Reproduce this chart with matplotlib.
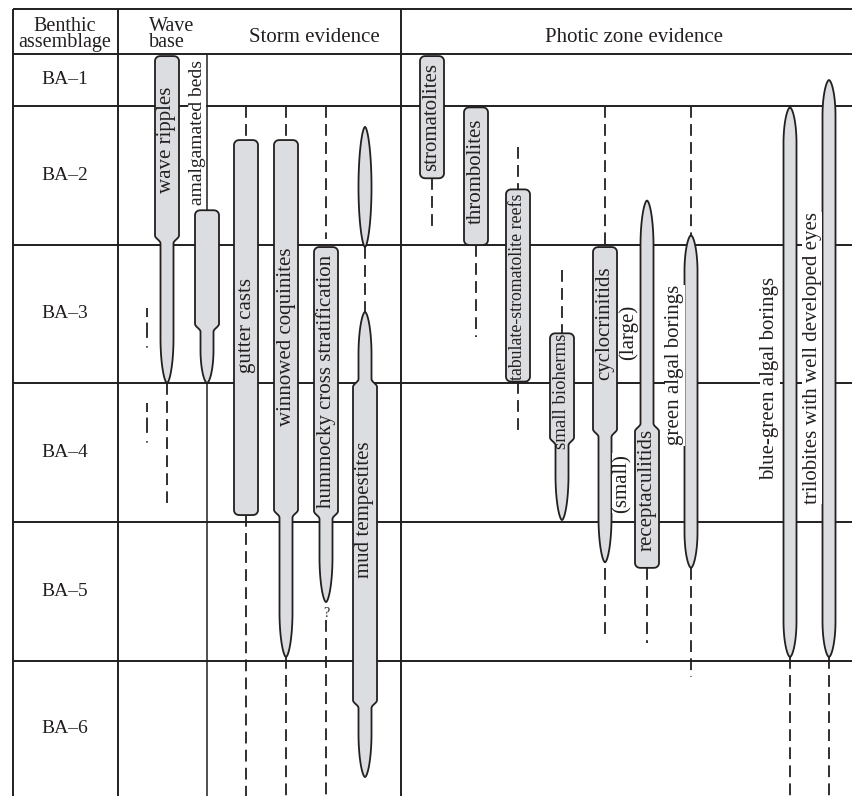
import numpy as np
import matplotlib
matplotlib.use("Agg")
import matplotlib.pyplot as plt
from matplotlib.patches import Polygon

plt.rcParams['font.family'] = ['Liberation Serif', 'DejaVu Serif']
plt.rcParams['lines.scale_dashes'] = False

# ------------------------------------------------------------------ data
zones = ["BA–1", "BA–2", "BA–3", "BA–4", "BA–5", "BA–6"]
headers = ["Benthic\nassemblage", "Wave\nbase", "Storm evidence", "Photic zone evidence"]

# ranges in benthic-assemblage units (1.0 = top of BA-1, 7.0 = bottom of BA-6)
feature_names = [
    "wave ripples", "", "amalgamated beds", "gutter casts", "winnowed coquinites",
    "hummocky cross stratification", "mud tempestites",
    "stromatolites", "thrombolites", "tabulate-stromatolite reefs", "small bioherms",
    "cyclocrinitids", "receptaculitids", "green algal borings",
    "blue-green algal borings", "trilobites with well developed eyes",
]
feature_segments = [
    [("box", 1.04, 2.96), ("narrow", 2.96, 4.0), ("dash", 4.0, 4.86)],
    [("dashdot", 3.457, 3.75), ("dashdot", 4.144, 4.446)],
    [("line", 1.0, 2.75), ("box", 2.75, 3.60), ("narrow", 3.60, 4.0), ("line", 4.0, 7.0)],
    [("dash", 2.0, 2.245), ("box", 2.245, 4.95), ("dash", 4.95, 7.0)],
    [("dash", 2.0, 2.245), ("box", 2.245, 4.94), ("narrow", 4.94, 5.971), ("dash", 5.971, 7.0)],
    [("dash", 2.0, 2.96), ("box", 3.015, 4.95), ("narrow", 4.95, 5.576), ("dash", 5.705, 7.0)],
    [("lens", 2.15, 3.015), ("dash", 3.015, 3.485), ("narrow", 3.485, 4.0),
     ("box", 4.0, 6.31), ("narrow", 6.31, 6.835)],
    [("box", 1.04, 2.52), ("dash", 2.52, 2.86)],
    [("box", 2.01, 3.0), ("dash", 3.0, 3.667)],
    [("dash", 2.295, 2.60), ("box", 2.60, 3.99), ("dash", 3.99, 4.374)],
    [("dash", 3.18, 3.64), ("box", 3.64, 4.42), ("narrow", 4.42, 4.986)],
    [("dash", 2.0, 3.015), ("box", 3.015, 4.36), ("narrow", 4.36, 5.29), ("dash", 5.33, 5.827)],
    [("narrow", 2.68, 4.32), ("box", 4.32, 5.33), ("dash", 5.33, 5.871)],
    [("dash", 2.0, 2.93), ("lens", 2.93, 5.33), ("dash", 5.33, 6.115)],
    [("lens", 2.01, 5.971), ("dash", 5.971, 7.0)],
    [("lens", 1.5, 5.971), ("dash", 5.971, 7.0)],
]
# label centre positions (BA units)
label_level = [2.245, None, 2.194, 3.58, 3.667, 3.99, 4.914,
               2.079, 2.468, 3.304, 4.058, 3.565, 4.77, 3.87, 3.964, 3.819]
extra_labels = ["(large)", "(small)", "?"]
extra_level = [3.63, 4.72, 5.655]

# ------------------------------------------------------------------ layout / style
zone_edges_px = [54, 106, 245, 383, 522, 661, 800]
feature_x = [167, 147, 207, 246, 286, 326, 365, 432, 476, 518, 562, 605, 647, 691, 790, 829]
label_x = [167, None, 197, 246, 286, 326, 365, 432, 476, 518, 562, 605, 647, 675, 770, 812]
label_outside = [False, False, True, False, False, False, False,
                 False, False, False, False, False, False, True, True, True]
label_size = [15, 15, 14, 15, 15, 15, 15, 15, 15, 12.8, 13.5, 15, 15, 15, 15, 15]
extra_x = [628, 622, 326]
extra_size = [15, 15, 10]

INK = '#231f20'
FILL = '#dcdde0'
W = {"box": 24, "narrow": 13, "lens": 13}


def py(ba):
    return float(np.interp(ba, [1, 2, 3, 4, 5, 6, 7], zone_edges_px))


fig = plt.figure(figsize=(8.52, 7.96), dpi=100)
ax = fig.add_axes([0, 0, 1, 1])
ax.set_xlim(0, 852)
ax.set_ylim(796, 0)
ax.axis('off')

# grid
GLW = 1.4
for y in [9, 54] + zone_edges_px[1:-1]:
    ax.plot([13, 852], [y, y], color=INK, lw=GLW, zorder=1, solid_capstyle='butt')
for x in [13, 118, 401]:
    ax.plot([x, x], [9, 800], color=INK, lw=GLW, zorder=1, solid_capstyle='butt')

# headers
ax.text(65, 34.5, headers[0], ha='center', va='center', fontsize=14.5, color=INK,
        linespacing=0.82, multialignment='center')
ax.text(149, 34.5, headers[1], ha='left', va='center', fontsize=14.5, color=INK,
        linespacing=0.82, multialignment='left')
ax.text(314, 42, headers[2], ha='center', va='baseline', fontsize=15, color=INK)
ax.text(634, 42, headers[3], ha='center', va='baseline', fontsize=15, color=INK)

for i, z in enumerate(zones):
    yc = (zone_edges_px[i] + zone_edges_px[i + 1]) / 2
    if i == 5:
        yc = (661 + 796) / 2
    ax.text(65, yc, z, ha='center', va='center', fontsize=14, color=INK)


def draw_group(x, group):
    ytop, ybot = group[0][1], group[-1][2]
    ys = np.linspace(ytop, ybot, int((ybot - ytop) * 3) + 2)
    widths = [W[k] / 2 for k, _, _ in group]
    hw = np.zeros_like(ys)
    for j, (k, a, b) in enumerate(group):
        m = (ys >= a - 1e-9) & (ys <= b + 1e-9)
        hw[m] = widths[j]
    for j in range(len(group) - 1):
        yj = group[j][2]
        w1, w2 = widths[j], widths[j + 1]
        m = np.abs(ys - yj) <= 4
        u = (ys[m] - (yj - 4)) / 8
        hw[m] = w2 + (w1 - w2) * (1 + np.cos(np.pi * u)) / 2
    r = 5.0
    for end in ("top", "bot"):
        k, a, b = group[0] if end == "top" else group[-1]
        L = b - a
        d = ys - ytop if end == "top" else ybot - ys
        if k == "box":
            m = d < r
            hw[m] = (widths[0 if end == "top" else -1] - r) + np.sqrt(np.clip(r ** 2 - (r - d[m]) ** 2, 0, None))
        else:
            if k == "lens":
                t = L / 2 if L < 160 else 36
            else:
                t = min(45, 0.6 * L)
            m = d < t
            s = 1 - d[m] / t
            hw[m] = hw[m] * np.clip(1 - s ** 2, 0, None) ** 0.6
    pts = np.concatenate([np.column_stack([x - hw, ys]),
                          np.column_stack([x + hw, ys])[::-1]])
    ax.add_patch(Polygon(pts, closed=True, facecolor=FILL, edgecolor=INK,
                         lw=1.3, zorder=3, joinstyle='round'))


for name, x, segs in zip(feature_names, feature_x, feature_segments):
    segs_px = [(k, py(a), py(b)) for k, a, b in segs]
    group = []
    for k, a, b in segs_px + [("end", 0, 0)]:
        if k in ("box", "narrow", "lens"):
            if group and abs(group[-1][2] - a) > 0.5:
                draw_group(x, group)
                group = []
            group.append((k, a, b))
            continue
        if group:
            draw_group(x, group)
            group = []
        if k == "dash":
            ax.plot([x, x], [a, b], color=INK, lw=1.3, linestyle=(0, (8.5, 4.5)),
                    zorder=2, solid_capstyle='butt', dash_capstyle='butt')
        elif k == "dashdot":
            ax.plot([x, x], [a, b], color=INK, lw=1.3, linestyle=(0, (6.5, 4, 11, 6, 1, 20)),
                    zorder=2, dash_capstyle='butt')
        elif k == "line":
            ax.plot([x, x], [a, b], color=INK, lw=1.1, zorder=2, solid_capstyle='butt')

for name, lx, lv, out, fs in zip(feature_names, label_x, label_level, label_outside, label_size):
    if not name:
        continue
    kw = {}
    if out:
        kw['bbox'] = dict(facecolor='white', edgecolor='none', pad=0.3)
    ax.text(lx, py(lv), name, rotation=90, ha='center', va='center',
            fontsize=fs, color=INK, zorder=5, **kw)

for t, ex, ev, fs in zip(extra_labels, extra_x, extra_level, extra_size):
    rot = 0 if t == "?" else 90
    ax.text(ex, py(ev), t, rotation=rot, ha='center', va='center', fontsize=fs,
            color=INK, zorder=5,
            bbox=None if t == "?" else dict(facecolor='white', edgecolor='none', pad=0.3))

fig.savefig("out.png", dpi=100)
